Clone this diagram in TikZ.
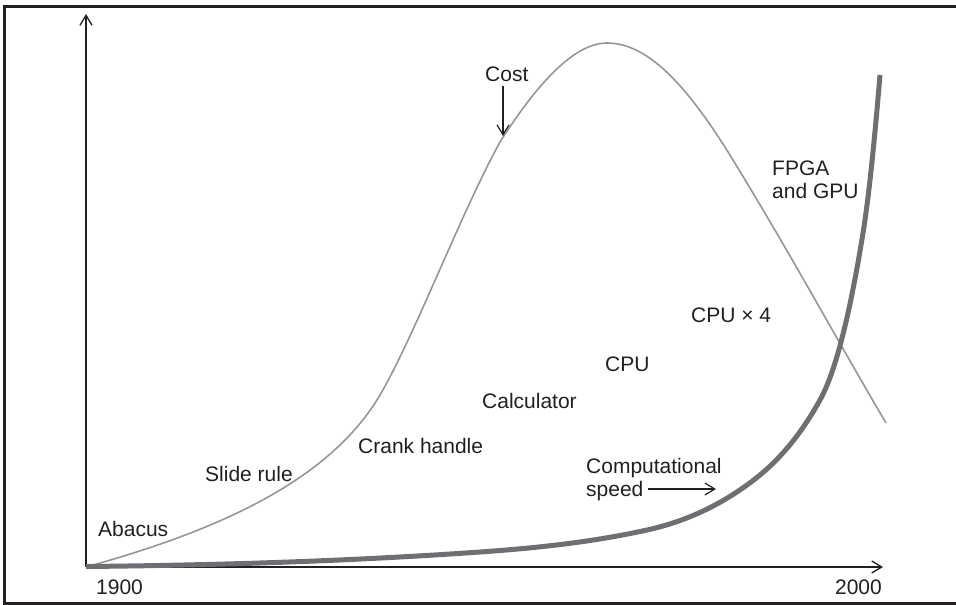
\documentclass[tikz,border=0pt]{standalone}
\usepackage{fontspec}
\setmainfont{Liberation Sans}
\usetikzlibrary{arrows.meta}
\definecolor{ink}{RGB}{35,31,32}
\definecolor{costgray}{RGB}{150,150,150}
\definecolor{speedgray}{RGB}{110,111,115}
\begin{document}
\begin{tikzpicture}[x=1pt,y=-1pt,
  lbl/.style={anchor=base west, inner sep=0pt, font=\fontsize{21}{23}\selectfont, text=ink},
  axisline/.style={draw=ink, line width=1.5pt, -{Straight Barb[length=10pt,width=12pt,line width=1.3pt]}},
  ptr/.style={draw=ink, line width=1.2pt, -{Straight Barb[length=10pt,width=12pt,line width=1.2pt]}},
  costcurve/.style={draw=costgray, line width=1.6pt},
  speedcurve/.style={draw=speedgray, line width=5pt, line cap=butt}]
\useasboundingbox (0,0) rectangle (956,605);
% frame
\draw[ink, line width=3pt] (960,6) -- (4,6) -- (4,603.5) -- (960,603.5);
% axes
\coordinate (O) at (86,567);
\coordinate (ytop) at (86,14);
\coordinate (xend) at (883,567);
\draw[axisline] (O) -- (ytop);
\draw[axisline] (O) -- (xend);
% cost curve
\coordinate (c1) at (380,395);
\coordinate (costtip) at (500,142);
\coordinate (peak) at (607,43);
\coordinate (c4) at (733,160);
\coordinate (costend) at (886,423);
\draw[costcurve] (O) .. controls (220,530) and (330,480) .. (c1)
  .. controls (415,335) and (460,215) .. (costtip)
  .. controls (530,95) and (570,43) .. (peak)
  .. controls (650,43) and (690,90) .. (c4)
  .. controls (790,253) and (840,345) .. (costend);
% speed curve
\coordinate (s0) at (86,566.5);
\coordinate (s1) at (480,552);
\coordinate (s2) at (647,530);
\coordinate (s3) at (747,485);
\coordinate (s4) at (820,400);
\coordinate (s5) at (863,233);
\coordinate (speedend) at (880,75);
\draw[speedcurve] (s0)
  .. controls (217.3,565.2) and (348.7,561.2) .. (s1)
  .. controls (535.7,548.1) and (591.3,542.3) .. (s2)
  .. controls (680.3,522.7) and (713.7,509) .. (s3)
  .. controls (771.3,467.5) and (795.7,443.7) .. (s4)
  .. controls (834.3,374.3) and (848.7,321.7) .. (s5)
  .. controls (868.7,197.9) and (874.3,143) .. (speedend);
% labels
\node[lbl] (abacus) at (98,536) {Abacus};
\node[lbl] (slide) at (205,481) {Slide rule};
\node[lbl] (crank) at (358,453) {Crank handle};
\node[lbl] (calc) at (482,408) {Calculator};
\node[lbl] (cpu) at (605,371) {CPU};
\node[lbl] (cpu4) at (691,322) {CPU × 4};
\node[lbl] (comp) at (586,473) {Computational};
\node[lbl] (speed) at (586,496) {speed};
\node[lbl] (cost) at (485,81) {Cost};
\node[lbl, anchor=north west, align=left] (fpga) at (772,161) {FPGA\\and GPU};
\node[lbl] (y1900) at (96,594) {1900};
\node[lbl, anchor=base east] (y2000) at (882,594) {2000};
% pointers
\coordinate (costarrow) at (503,136);
\coordinate (speedtip) at (716,489);
\draw[ptr] ([yshift=-5pt]costarrow |- cost.south) -- (costarrow);
\draw[ptr] ([xshift=4pt,yshift=7pt]speed.base east) -- (speedtip);
\end{tikzpicture}
\end{document}
